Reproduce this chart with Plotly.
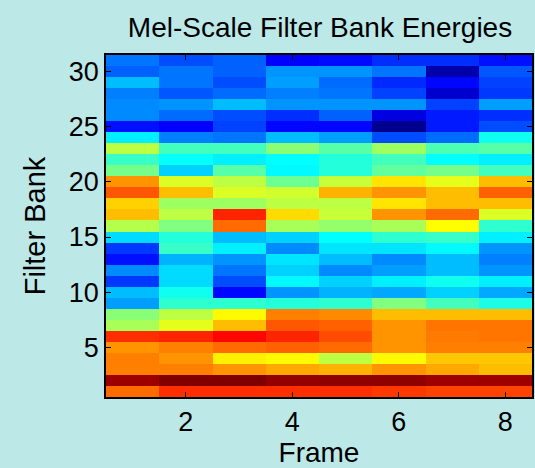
import plotly.graph_objects as go

frames = [1, 2, 3, 4, 5, 6, 7, 8]
filter_banks = list(range(1, 32))
# Energies per filter bank, bottom row (bank 1) first, normalised to the colour range
energies = [
    [.77, .83, .83, .83, .83, .82, .81, .81],
    [.97, 1.0, 1.0, .98, .985, .985, .97, .97],
    [.75, .75, .73, .71, .70, .73, .71, .69],
    [.75, .73, .64, .63, .56, .63, .68, .68],
    [.73, .75, .77, .78, .77, .73, .75, .75],
    [.83, .84, .87, .84, .80, .73, .755, .76],
    [.54, .60, .69, .79, .78, .73, .76, .76],
    [.51, .56, .63, .75, .74, .69, .69, .69],
    [.28, .42, .42, .41, .42, .50, .44, .40],
    [.31, .39, .13, .27, .30, .29, .33, .29],
    [.18, .34, .20, .37, .33, .36, .39, .36],
    [.26, .34, .24, .33, .26, .28, .31, .27],
    [.14, .30, .27, .35, .31, .26, .31, .25],
    [.18, .43, .36, .26, .35, .35, .37, .27],
    [.34, .41, .31, .33, .375, .42, .43, .36],
    [.55, .50, .77, .54, .52, .54, .625, .42],
    [.69, .56, .84, .66, .57, .73, .77, .59],
    [.67, .53, .53, .56, .56, .65, .69, .69],
    [.79, .69, .59, .58, .70, .73, .69, .78],
    [.73, .59, .56, .48, .57, .65, .60, .69],
    [.49, .33, .46, .37, .41, .47, .49, .44],
    [.43, .38, .36, .375, .41, .44, .375, .36],
    [.56, .44, .44, .51, .46, .53, .45, .46],
    [.36, .25, .24, .31, .28, .20, .23, .39],
    [.14, .125, .19, .13, .13, .00, .15, .20],
    [.26, .23, .20, .17, .22, .09, .15, .17],
    [.26, .27, .31, .27, .27, .27, .19, .28],
    [.25, .21, .23, .25, .24, .19, .07, .18],
    [.31, .24, .20, .28, .23, .165, .13, .19],
    [.22, .24, .22, .27, .27, .24, .03, .21],
    [.24, .20, .22, .125, .135, .17, .17, .14],
]
x_ticks = [2, 4, 6, 8]
y_ticks = [5, 10, 15, 20, 25, 30]

jet = [
    [0.0, "rgb(0,0,143)"],
    [0.125, "rgb(0,0,255)"],
    [0.375, "rgb(0,255,255)"],
    [0.625, "rgb(255,255,0)"],
    [0.875, "rgb(255,0,0)"],
    [1.0, "rgb(128,0,0)"],
]
FONT = "Liberation Sans, Arial, sans-serif"

fig = go.Figure(go.Heatmap(
    x=frames, y=filter_banks, z=energies,
    colorscale=jet, zmin=0, zmax=1, showscale=False, zsmooth=False,
))
axis = dict(
    showgrid=False, zeroline=False, showline=True, mirror="ticks",
    linecolor="black", linewidth=1.5, ticks="inside", ticklen=5,
    tickcolor="black", tickwidth=1,
    tickfont=dict(size=27, color="black", family=FONT),
)
fig.update_xaxes(
    range=[0.5, 8.5], tickvals=x_ticks, ticktext=[str(t) for t in x_ticks],
    automargin=False,
    title=dict(text="Frame", font=dict(size=28, color="black", family=FONT)),
    **axis,
)
fig.update_yaxes(
    range=[0.5, 31.5], tickvals=y_ticks, ticktext=[str(t) for t in y_ticks],
    title=dict(text="Filter Bank", font=dict(size=29, color="black", family=FONT), standoff=15),
    **axis,
)
fig.update_layout(
    width=535, height=468,
    margin=dict(l=106, r=1, t=55, b=71),
    paper_bgcolor="#bde8e8", plot_bgcolor="#bde8e8",
    title=dict(
        text="Mel-Scale Filter Bank Energies",
        font=dict(size=28, color="black", family=FONT),
        x=320 / 535, xanchor="center", y=1 - 27 / 468, yanchor="middle",
    ),
)
fig.write_html(
    "out.html",
    config={"displayModeBar": False},
    post_script="document.body.style.margin='0';document.body.style.overflow='hidden';"
                "document.body.style.background='#bde8e8';",
)
